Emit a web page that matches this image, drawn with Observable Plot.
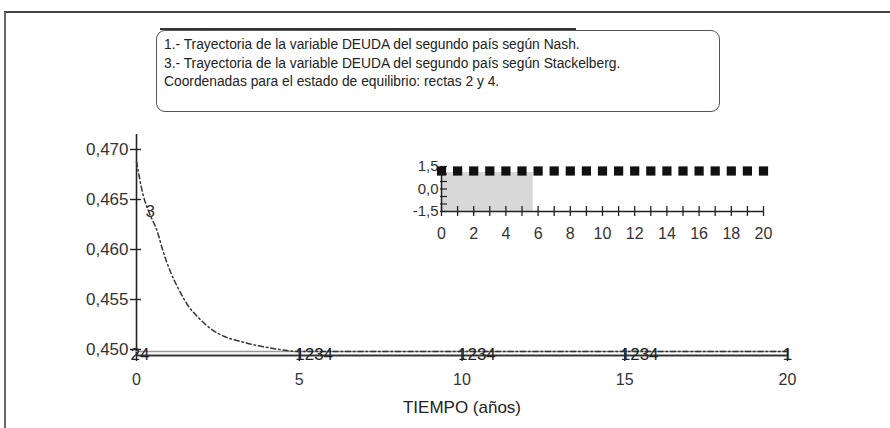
<!DOCTYPE html>
<html>
<head>
<meta charset="utf-8">
<script src="https://cdn.jsdelivr.net/npm/d3@7"></script>
<script src="https://cdn.jsdelivr.net/npm/@observablehq/plot@0.6"></script>
<style>
  html, body { margin: 0; padding: 0; background: #fff; }
  #root { position: relative; width: 890px; height: 428px; overflow: hidden; font-family: "Liberation Sans", Arial, sans-serif; color: #333; }
  #main, #inset { position: absolute; }
  #main { left: 0; top: 0; }
  #inset { left: 370px; top: 150px; }
  .frame { position: absolute; left: 4px; top: 11px; width: 900px; height: 430px; border-top: 2px solid #444; border-left: 2px solid #666; box-sizing: border-box; }
  .legend { position: absolute; left: 156px; top: 30px; width: 564px; height: 82px; border: 1.5px solid #555; border-radius: 9px; box-sizing: border-box; padding: 5px 0 0 7px; font-size: 13.8px; line-height: 18.5px; color: #222; }
  .legend-shadow { position: absolute; left: 160px; top: 28px; width: 416px; height: 2px; background: #333; }
</style>
</head>
<body>
<div id="root">
  <div class="frame"></div>
  <div id="main"></div>
  <div class="legend-shadow"></div>
  <div class="legend" id="legend"></div>
  <div id="inset"></div>
</div>
<script>
// ---- Text ----
const legendLines = [
  "1.- Trayectoria de la variable DEUDA del segundo país según Nash.",
  "3.- Trayectoria de la variable DEUDA del segundo país según Stackelberg.",
  "Coordenadas para el estado de equilibrio: rectas 2 y 4."
];
const xLabel = "TIEMPO (años)";

// ---- Main chart scales / ticks ----
const xDomain = [0, 20];
const yDomain = [0.4494, 0.4718];
const xTicks = [0, 5, 10, 15, 20];
const yTicks = [0.450, 0.455, 0.460, 0.465, 0.470];

// ---- Series ----
const t1 = [0, 20];
const serie1 = [0.4498, 0.4498];           // Nash trajectory
const t2 = [0, 20];
const serie2 = [0.4494, 0.4494];           // equilibrium line 2
const t4 = [0, 20];
const serie4 = [0.4494, 0.4494];           // equilibrium line 4
const t3 = [0, 0.2, 0.4, 0.64, 0.8, 1.04, 1.3, 1.56, 1.9, 2.27, 2.7, 3.2, 3.7, 4.2, 5, 10, 15, 20];
const serie3 = [0.4688, 0.4655, 0.4636, 0.4618, 0.4600, 0.4578, 0.4560, 0.4545, 0.4532, 0.4521,
                0.4513, 0.4508, 0.4504, 0.4501, 0.4498, 0.4498, 0.4498, 0.4498]; // Stackelberg

// curve labels
const labelTimes = [5, 10, 15];
const labelText = "1234";
const startLabel = "24";
const endLabel = "1";
const label3 = {t: 0.28, v: 0.4638, text: "3"};

// ---- Inset ----
const insetX = [0, 20];
const insetY = [-1.5, 1.5];
const insetXTicks = d3.range(0, 21, 1);
const insetXLabels = [0, 2, 4, 6, 8, 10, 12, 14, 16, 18, 20];
const insetYTicks = [-1.5, -1, -0.5, 0, 0.5, 1, 1.5];
const insetYLabels = [-1.5, 0, 1.5];
const insetSquaresT = d3.range(0, 21, 1);
const insetSquaresV = [1.2,1.2,1.2,1.2,1.2,1.2,1.2,1.2,1.2,1.2,1.2,1.2,1.2,1.2,1.2,1.2,1.2,1.2,1.2,1.2,1.2];
const insetBand = {t1: 0, t2: 5.7, v1: -1.5, v2: 1.1};

const comma3 = d => d3.format(".3f")(d).replace(".", ",");
const comma1 = d => d.toFixed(1).replace(".", ",");

document.getElementById("legend").innerHTML = legendLines.map(l => `<div>${l}</div>`).join("");

const toRows = (ts, vs) => ts.map((t, i) => ({t, v: vs[i]}));

const main = Plot.plot({
  width: 890,
  height: 428,
  marginLeft: 136,
  marginRight: 103,
  marginTop: 131,
  marginBottom: 73,
  style: {fontFamily: "Liberation Sans, Arial, sans-serif", background: "transparent", color: "#333"},
  x: {domain: xDomain, label: null},
  y: {domain: yDomain, label: null},
  marks: [
    // axes lines
    Plot.ruleX([xDomain[0]], {y1: yDomain[0], y2: yDomain[1], stroke: "#222", strokeWidth: 1.6, insetBottom: -3}),
    Plot.ruleY([yDomain[0]], {x1: xDomain[0], x2: xDomain[1], stroke: "#222", strokeWidth: 1.6}),
    // cross ticks
    Plot.ruleY(yTicks, {x1: xDomain[0], x2: xDomain[0], insetLeft: -6, insetRight: -5, stroke: "#222", strokeWidth: 1.4}),
    Plot.ruleX(xTicks, {y1: yDomain[0], y2: yDomain[0], insetTop: -7, insetBottom: -6, stroke: "#222", strokeWidth: 1.4}),
    Plot.axisY({ticks: yTicks, tickSize: 0, tickPadding: 8, tickFormat: comma3, fontSize: 17, fill: "#333", label: null}),
    Plot.axisX({ticks: xTicks, tickSize: 0, tickPadding: 18, tickFormat: d => String(d), fontSize: 16, fill: "#333", label: null}),
    Plot.text([xLabel], {frameAnchor: "bottom", text: d => d, dy: 45, lineAnchor: "top", fontSize: 17, fill: "#222", x: () => (xDomain[0] + xDomain[1]) / 2}),
    // series
    Plot.line(toRows(t2, serie2), {x: "t", y: "v", stroke: "#222", strokeWidth: 1.6}),
    Plot.line(toRows(t4, serie4), {x: "t", y: "v", stroke: "#333", strokeWidth: 1}),
    Plot.line(toRows(t1, serie1), {x: "t", y: "v", stroke: "#999", strokeWidth: 1.3}),
    Plot.line(toRows(t3, serie3), {x: "t", y: "v", stroke: "#333", strokeWidth: 1.5, strokeDasharray: "5,3,1.5,3", curve: "monotone-x"}),
    // curve labels
    Plot.text(labelTimes, {x: d => d, y: () => serie2[0], text: () => labelText, textAnchor: "start", dx: -4, dy: -1, fontSize: 17, fill: "#222"}),
    Plot.text([startLabel], {x: () => t2[0], y: () => serie2[0], text: d => d, textAnchor: "start", dx: -6, dy: -1, fontSize: 17, fill: "#222"}),
    Plot.text([endLabel], {x: () => t1[t1.length - 1], y: () => serie2[0], text: d => d, textAnchor: "middle", dx: 0, dy: -1, fontSize: 17, fill: "#222"}),
    Plot.text([label3], {x: "t", y: "v", text: "text", textAnchor: "start", fontSize: 17, fill: "#333"})
  ]
});
document.getElementById("main").appendChild(main);

const inset = Plot.plot({
  width: 410,
  height: 100,
  marginLeft: 71,
  marginRight: 17,
  marginTop: 16,
  marginBottom: 39,
  style: {fontFamily: "Liberation Sans, Arial, sans-serif", background: "transparent", color: "#333"},
  x: {domain: insetX, label: null},
  y: {domain: insetY, label: null},
  marks: [
    Plot.rect([insetBand], {x1: "t1", x2: "t2", y1: "v1", y2: "v2", fill: "#d4d4d4", fillOpacity: 0.9}),
    Plot.ruleX([insetX[0]], {y1: insetY[0], y2: insetY[1], stroke: "#222", strokeWidth: 1.5}),
    Plot.ruleY([insetY[0]], {x1: insetX[0], x2: insetX[1], stroke: "#222", strokeWidth: 1.5}),
    Plot.ruleX(insetXTicks, {y1: insetY[0], y2: insetY[0], insetTop: -5, insetBottom: -5, stroke: "#222", strokeWidth: 1.3}),
    Plot.ruleY(insetYTicks, {x1: insetX[0], x2: insetX[0], insetLeft: -1, insetRight: -6, stroke: "#222", strokeWidth: 1.2}),
    Plot.axisX({ticks: insetXLabels, tickSize: 0, tickPadding: 16, tickFormat: d => String(d), fontSize: 16, fill: "#333", label: null}),
    Plot.axisY({ticks: insetYLabels, tickSize: 0, tickPadding: 3, tickFormat: comma1, fontSize: 15, fill: "#333", label: null}),
    Plot.dot(toRows(insetSquaresT, insetSquaresV), {x: "t", y: "v", symbol: "square", r: 5.2, fill: "#111", stroke: "none"})
  ]
});
document.getElementById("inset").appendChild(inset);
</script>
</body>
</html>
